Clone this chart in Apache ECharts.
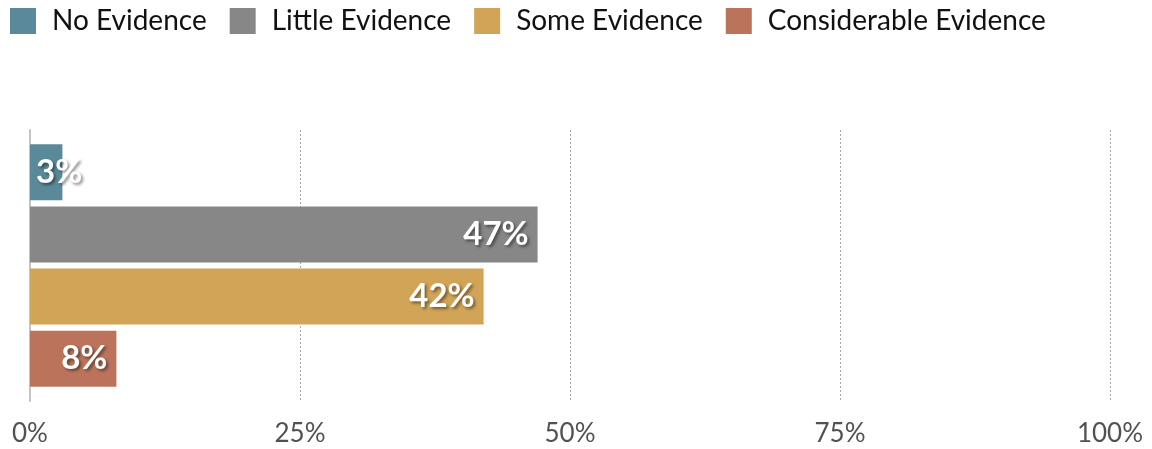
<!DOCTYPE html>
<html>
<head>
<meta charset="utf-8">
<script src="https://cdn.jsdelivr.net/npm/echarts@6/dist/echarts.min.js"></script>
<style>
  html, body { margin: 0; padding: 0; background: #fff; }
  #chart { width: 1152px; height: 449px; }
</style>
</head>
<body>
<div id="chart"></div>
<script>
// Share of studies by strength of evidence
const seriesNames = ['No Evidence', 'Little Evidence', 'Some Evidence', 'Considerable Evidence'];
const seriesValues = [3, 47, 42, 8];
const seriesColors = ['#5a8a99', '#878787', '#d1a457', '#bb745b'];
const xTicks = [0, 25, 50, 75, 100];

const FONT = 'Lato, "Noto Sans", sans-serif';

const chart = echarts.init(document.getElementById('chart'), null, { renderer: 'canvas' });

const series = seriesNames.map((name, i) => ({
  name: name,
  type: 'bar',
  barWidth: 56,
  barGap: '11%',
  itemStyle: { color: seriesColors[i] },
  data: [{
    value: seriesValues[i],
    // a bar too narrow for its label keeps the label anchored at the bar start
    label: seriesValues[i] < 5 ? { position: 'insideLeft', distance: 6 } : {}
  }],
  label: {
    show: true,
    position: 'insideRight',
    distance: 9,
    formatter: '{c}%',
    color: '#ffffff',
    fontFamily: FONT,
    fontWeight: 'bold',
    fontSize: 33,
    textShadowColor: 'rgba(0,0,0,0.45)',
    textShadowBlur: 3,
    textShadowOffsetX: 2,
    textShadowOffsetY: 2
  }
}));

chart.setOption({
  animation: false,
  legend: {
    top: 7,
    left: 10,
    padding: 0,
    itemWidth: 26,
    itemHeight: 26,
    itemGap: 23,
    icon: 'rect',
    data: seriesNames,
    textStyle: {
      fontFamily: FONT,
      fontSize: 28,
      color: '#111111',
      padding: [0, 0, 0, 11]
    }
  },
  grid: { left: 30, right: 42, top: 130, bottom: 48, containLabel: false },
  xAxis: {
    type: 'value',
    min: xTicks[0],
    max: xTicks[xTicks.length - 1],
    interval: 25,
    axisLine: { show: false },
    axisTick: { show: false },
    axisLabel: {
      formatter: '{value}%',
      fontFamily: FONT,
      fontSize: 26,
      color: '#555050',
      margin: 20
    },
    splitLine: {
      show: true,
      showMinLine: false,
      lineStyle: { color: '#a8a8a8', type: [2, 2], width: 1 }
    }
  },
  yAxis: {
    type: 'category',
    inverse: true,
    data: [''],
    axisLine: { show: true, lineStyle: { color: '#c4c4c4', width: 2 } },
    axisTick: { show: false },
    axisLabel: { show: false }
  },
  series: series
});
</script>
</body>
</html>
